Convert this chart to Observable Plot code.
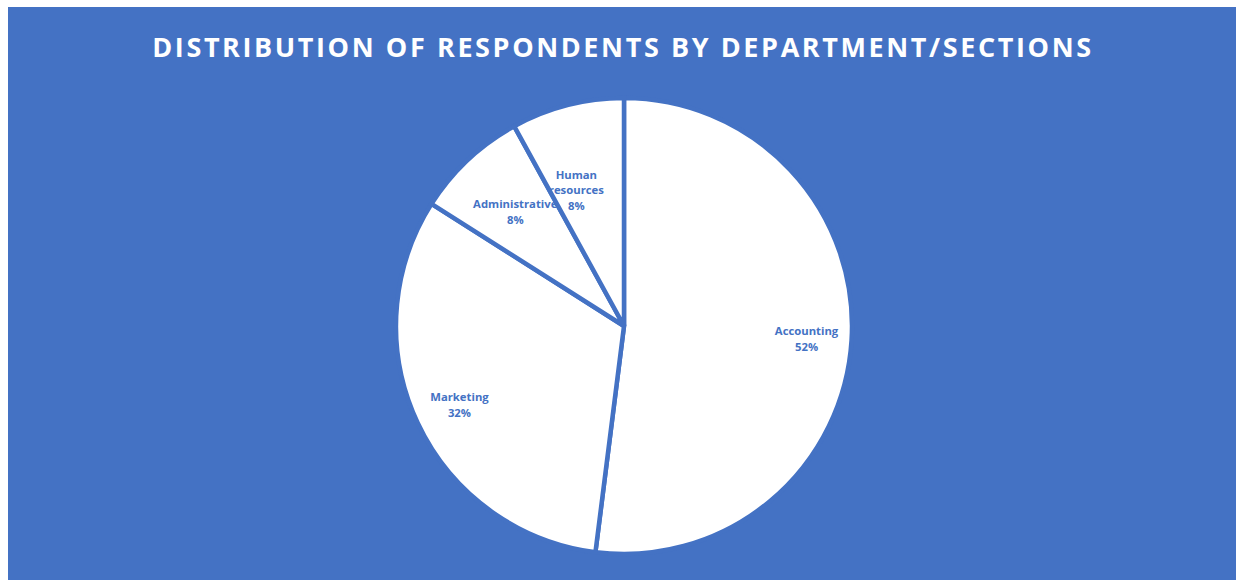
<!DOCTYPE html>
<html>
<head>
<meta charset="utf-8">
<script src="https://cdn.jsdelivr.net/npm/d3@7"></script>
<script src="https://cdn.jsdelivr.net/npm/@observablehq/plot@0.6"></script>
<style>
  html, body { margin: 0; padding: 0; background: #ffffff; }
  #frame { position: absolute; left: 8px; top: 7px; width: 1228px; height: 573px; background: #4472C4; overflow: hidden; }
  #title { height: 80px; line-height: 80px; text-align: center; color: #ffffff; font-family: "Open Sans", sans-serif; font-weight: 700; font-size: 27px; letter-spacing: 2.6px; white-space: nowrap; padding-left: 2px; box-sizing: border-box; }
  #chart svg { display: block; }
</style>
</head>
<body>
<div id="frame">
  <div id="title">DISTRIBUTION OF RESPONDENTS BY DEPARTMENT/SECTIONS</div>
  <div id="chart"></div>
</div>
<script>
// Data
const departments = ["Accounting", "Marketing", "Administrative", "Human resources"];
const percents = [52, 32, 8, 8];
const labelText = ["Accounting", "Marketing", "Administrative", "Human\nresources"];
// label placement (fraction of radius, angle nudge in radians), layout only
const labelRadius = [0.80, 0.80, 0.70, 0.64];
const labelNudge = [0, 0, 0, -0.085];

const BLUE = "#4472C4";

const pie = d3.pie().sort(null).value(d => d.value)(
  departments.map((name, i) => ({name, value: percents[i]}))
);

const labels = pie.map((a, i) => {
  const mid = (a.startAngle + a.endAngle) / 2 + labelNudge[i];
  return {
    x: labelRadius[i] * Math.sin(mid),
    y: labelRadius[i] * Math.cos(mid),
    text: labelText[i] + "\n" + percents[i] + "%"
  };
});

const W = 1228, H = 493;

function pieMark(index, scales, values, dimensions) {
  const sx = scales && scales.x ? scales.x : (v => dimensions.marginLeft + (v + 1) / 2 * (dimensions.width - dimensions.marginLeft - dimensions.marginRight));
  const sy = scales && scales.y ? scales.y : (v => dimensions.marginTop + (1 - v) / 2 * (dimensions.height - dimensions.marginTop - dimensions.marginBottom));
  const cx = sx(0), cy = sy(0);
  const r = sx(1) - sx(0);
  const arc = d3.arc().innerRadius(0).outerRadius(r);
  const g = d3.create("svg:g").attr("transform", `translate(${cx},${cy})`);
  g.selectAll("path").data(pie).join("path")
    .attr("d", arc)
    .attr("fill", "#ffffff")
    .attr("stroke", BLUE)
    .attr("stroke-width", 4.5)
    .attr("stroke-linejoin", "miter");
  return g.node();
}

const plot = Plot.plot({
  width: W,
  height: H,
  marginLeft: 388,
  marginRight: 384,
  marginTop: 12,
  marginBottom: 27,
  style: { background: "transparent", overflow: "visible" },
  x: { domain: [-1, 1], axis: null },
  y: { domain: [-1, 1], axis: null },
  marks: [
    pieMark,
    Plot.text(labels, {
      x: "x", y: "y", text: "text",
      fill: BLUE,
      fontSize: 11.3,
      fontWeight: 700,
      fontFamily: "Open Sans, sans-serif",
      lineHeight: 1.4,
      lineAnchor: "middle"
    })
  ]
});
document.getElementById("chart").appendChild(plot);
</script>
</body>
</html>
